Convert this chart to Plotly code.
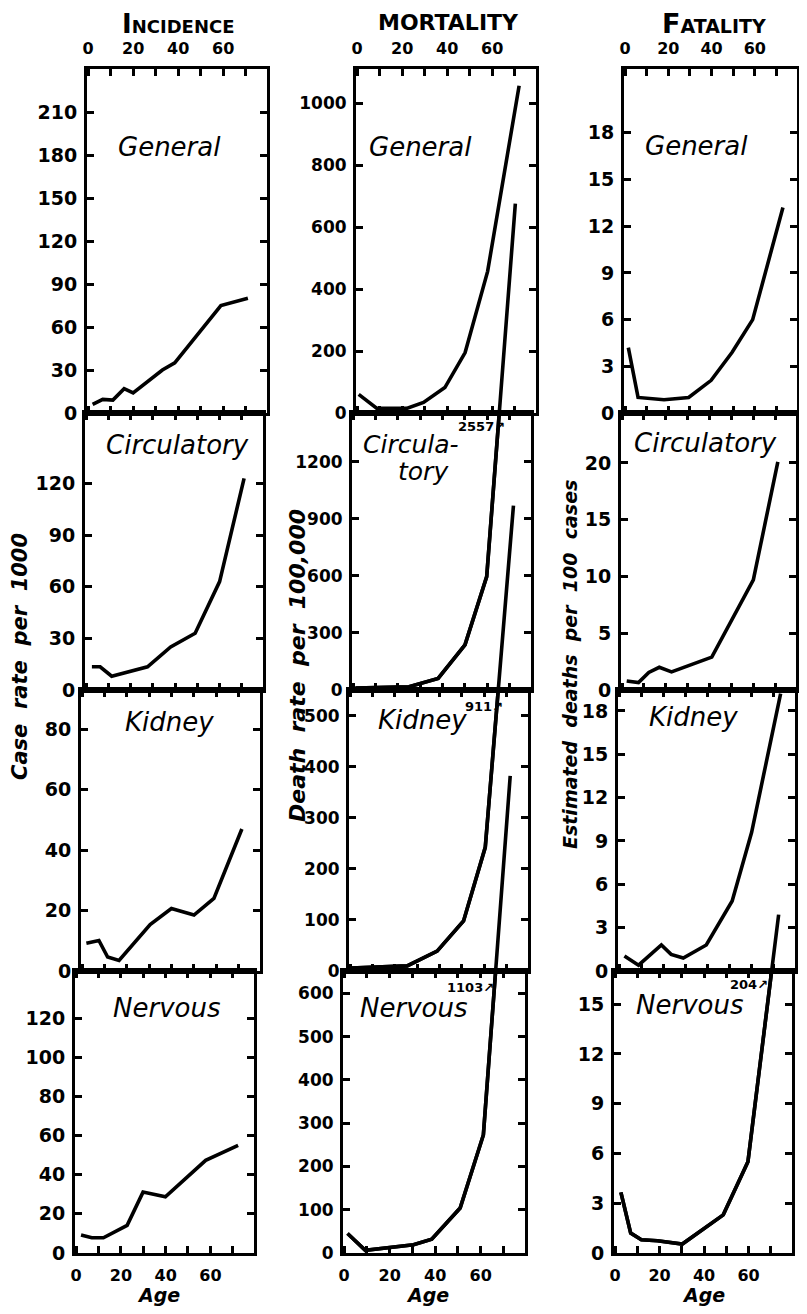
import plotly.graph_objects as go

# The page body adds an 8px margin, so positions below are given in
# reference-page pixels and shifted by OFF.
PAGE_W, PAGE_H = 807, 1314
OFF = 8
W, H = PAGE_W - 2 * OFF, PAGE_H - 2 * OFF

# ---------------- data ----------------
col_titles = ["Incidence", "MORTALITY", "Fatality"]
row_labels = ["General", "Circulatory", "Kidney", "Nervous"]
x_tick_vals = [0, 10, 20, 30, 40, 50, 60, 70]
x_tick_text = ["0", "", "20", "", "40", "", "60", ""]

# Incidence (case rate per 1000)
inc_general_age = [2, 6.5, 11, 16, 20, 33, 38.5, 49, 59, 71]
inc_general_val = [6, 9.5, 9, 17, 14, 30, 35, 55, 75, 80]
inc_circ_age = [2.6, 6.3, 11.5, 27.6, 38, 49, 60, 71]
inc_circ_val = [13.5, 13.5, 8, 13.5, 25, 33, 63, 123]
inc_kidney_age = [1.9, 7.5, 11.4, 16.5, 30.4, 39.9, 50, 58.9, 71.4]
inc_kidney_val = [9.2, 10.1, 4.6, 3.5, 15.4, 20.7, 18.5, 24, 47]
inc_nervous_age = [2.2, 7, 12.2, 22.8, 29.9, 39.9, 57.9, 72.4]
inc_nervous_val = [9.2, 7.8, 7.8, 14.1, 31.1, 28.7, 47.3, 55]

# Mortality (death rate per 100,000)
mort_general_age = [0.7, 8.8, 22, 29.5, 39, 48, 58, 72]
mort_general_val = [60, 15, 15, 34, 82, 195, 457, 1056]
mort_circ_age = [1, 25, 38, 50, 59.7, 72.5]
mort_circ_val = [10, 17, 61, 237, 596, 2557]
mort_kidney_age = [0.4, 25.5, 38.9, 50.7, 60.4, 73]
mort_kidney_val = [6, 10, 39, 98, 242, 911]
mort_nervous_age = [1.5, 9.3, 30.5, 38.5, 51, 61.2, 73]
mort_nervous_val = [45, 6, 19, 32, 104, 273, 1103]

# Fatality (estimated deaths per 100 cases)
fat_general_age = [1.5, 6, 18, 29.4, 39.8, 49.5, 59, 73]
fat_general_val = [4.2, 1.0, 0.85, 1.0, 2.1, 3.9, 6.0, 13.2]
fat_circ_age = [2.1, 7.5, 12.2, 17, 22.6, 41, 60, 71.2]
fat_circ_val = [0.8, 0.65, 1.55, 2.0, 1.6, 2.9, 9.7, 20.1]
fat_kidney_age = [2.4, 8.8, 19.1, 23.5, 29, 39.4, 51.1, 59.9, 73]
fat_kidney_val = [1.04, 0.4, 1.8, 1.15, 0.9, 1.8, 4.85, 9.6, 19.2]
fat_nervous_age = [2.6, 7, 11.8, 19, 30.2, 48.6, 59.7, 73.5]
fat_nervous_val = [3.65, 1.2, 0.8, 0.74, 0.54, 2.3, 5.5, 20.4]

# y-axis ranges and ticks
inc_ymax = [240, 161, 93, 144]
inc_yticks = [list(range(0, 211, 30)), list(range(0, 121, 30)), list(range(0, 81, 20)), list(range(0, 121, 20))]
mort_ymax = [1110, 1456, 550, 652]
mort_yticks = [list(range(0, 1001, 200)), list(range(0, 1201, 300)), list(range(0, 501, 100)), list(range(0, 601, 100))]
fat_ymax = [22.1, 24.4, 19.45, 17.0]
fat_yticks = [list(range(0, 19, 3)), list(range(0, 21, 5)), list(range(0, 19, 3)), list(range(0, 16, 3))]

overflow_labels = {(1, 1): "2557↗", (2, 1): "911↗", (3, 1): "1103↗", (3, 2): "204↗"}

series = [
    [(inc_general_age, inc_general_val), (inc_circ_age, inc_circ_val),
     (inc_kidney_age, inc_kidney_val), (inc_nervous_age, inc_nervous_val)],
    [(mort_general_age, mort_general_val), (mort_circ_age, mort_circ_val),
     (mort_kidney_age, mort_kidney_val), (mort_nervous_age, mort_nervous_val)],
    [(fat_general_age, fat_general_val), (fat_circ_age, fat_circ_val),
     (fat_kidney_age, fat_kidney_val), (fat_nervous_age, fat_nervous_val)],
]
ymaxes = [inc_ymax, mort_ymax, fat_ymax]
yticks = [inc_yticks, mort_yticks, fat_yticks]

# ---------------- layout geometry (reference pixels) ----------------
rows_px = [(69, 413), (413, 690), (690, 971), (971, 1253)]
cols_px = [
    [(87, 267), (85, 263), (81, 260), (75, 254)],
    [(356, 536), (352, 531), (349, 528), (343, 525)],
    [(624, 797), (621, 796), (618, 795), (614, 792)],
]
xrange_ = [-0.5, 79.5]
ytick_size = [19, 17, 19]


def px(p):
    return (p - OFF) / W


def py(p):
    return 1 - (p - OFF) / H


fig = go.Figure()
layout = {}
INK = "black"
FONT = "DejaVu Sans"
LINE = dict(color=INK, width=3.6)

idx = 0
ext_idx = 12
for c in range(3):
    for r in range(4):
        idx += 1
        k = "" if idx == 1 else str(idx)
        xl, xr = cols_px[c][r]
        yt, yb = rows_px[r]
        ymax = ymaxes[c][r]
        xa = dict(domain=[px(xl), px(xr)], range=xrange_, tickvals=x_tick_vals,
                  ticktext=x_tick_text, ticks="inside", ticklen=7, tickwidth=3,
                  tickcolor=INK, showline=True, linewidth=3, linecolor=INK,
                  mirror="ticks", showgrid=False, zeroline=False,
                  anchor="y" + k, automargin=False,
                  tickfont=dict(family=FONT, size=16, color=INK, weight="bold"),
                  showticklabels=(r == 0 or r == 3),
                  side="top" if r == 0 else "bottom",
                  ticklabelstandoff=6)
        ya = dict(domain=[py(yb), py(yt)], range=[0, ymax], tickvals=yticks[c][r],
                  ticktext=[str(v) for v in yticks[c][r]], ticks="inside", ticklen=7,
                  tickwidth=3, tickcolor=INK, showline=True, linewidth=3, linecolor=INK,
                  mirror="ticks", showgrid=False, zeroline=False, anchor="x" + k,
                  automargin=False,
                  tickfont=dict(family=FONT, size=ytick_size[c], color=INK, weight="bold"),
                  ticklabelstandoff=3)
        layout["xaxis" + k] = xa
        layout["yaxis" + k] = ya
        ages, vals = series[c][r]
        fig.add_trace(go.Scatter(x=ages, y=vals, mode="lines", line=LINE,
                                 xaxis="x" + k, yaxis="y" + k,
                                 showlegend=False, hoverinfo="skip"))
        if (r, c) in overflow_labels:
            # extended, invisible axis pair sharing the panel's scale but
            # reaching up into the panel above, so the curve can run on
            ext_idx += 1
            ek = str(ext_idx)
            ext_top = rows_px[r - 1][0]
            ext_ymax = ymax * (yb - ext_top) / (yb - yt)
            layout["xaxis" + ek] = dict(domain=[px(xl), px(xr)], range=xrange_,
                                        visible=False, anchor="y" + ek)
            layout["yaxis" + ek] = dict(domain=[py(yb), py(ext_top)], range=[0, ext_ymax],
                                        visible=False, anchor="x" + ek)
            fig.add_trace(go.Scatter(x=ages, y=vals, mode="lines", line=LINE,
                                     xaxis="x" + ek, yaxis="y" + ek,
                                     showlegend=False, hoverinfo="skip"))

ann = []
SP = "\u00a0\u00a0"


def add_text(text, x, y, size, italic=False, bold=False, angle=0, variant="normal"):
    ann.append(dict(text=text, x=px(x), y=py(y), xref="paper", yref="paper",
                    showarrow=False, textangle=angle, xanchor="center", yanchor="middle",
                    font=dict(family=FONT, size=size, color=INK,
                              style="italic" if italic else "normal",
                              weight="bold" if bold else "normal",
                              variant=variant)))


# column titles
add_text(col_titles[0], 178, 24, 26, bold=True, variant="small-caps")
add_text(col_titles[1], 448, 22, 22, bold=True)
add_text(col_titles[2], 714, 24, 27, bold=True, variant="small-caps")

# panel labels
label_pos = {
    (0, 0): (169, 147), (0, 1): (420, 147), (0, 2): (696, 146),
    (1, 0): (177, 445), (1, 2): (705, 443),
    (2, 0): (169, 722), (2, 1): (422, 720), (2, 2): (693, 717),
    (3, 0): (166, 1008), (3, 1): (413, 1008), (3, 2): (689, 1005),
}
for (r, c), (x, y) in label_pos.items():
    add_text(row_labels[r], x, y, 26, italic=True)
add_text("Circula-", 411, 445, 25, italic=True)
add_text("tory", 424, 472, 25, italic=True)

# overflow value notes
note_pos = {(1, 1): (481, 426), (2, 1): (484, 706), (3, 1): (471, 987), (3, 2): (749, 985)}
for key, (x, y) in note_pos.items():
    add_text(overflow_labels[key], x, y, 13, bold=True)

# axis titles
add_text(SP.join(["Case", "rate", "per", "1000"]), 20, 657, 21, italic=True, bold=True, angle=-90)
add_text(SP.join(["Death", "rate", "per", "100,000"]), 297, 666, 22, italic=True, bold=True, angle=-90)
add_text(SP.join(["Estimated", "deaths", "per", "100", "cases"]), 570, 665, 19,
         italic=True, bold=True, angle=-90)
for x in (158, 427, 703):
    add_text("Age", x, 1295, 19, italic=True, bold=True)

fig.update_layout(**layout)
fig.update_layout(width=W, height=H,
                  margin=dict(l=0, r=0, t=0, b=0, pad=0, autoexpand=False),
                  paper_bgcolor="white", plot_bgcolor="rgba(0,0,0,0)",
                  showlegend=False, annotations=ann)

fig.write_html("out.html")
